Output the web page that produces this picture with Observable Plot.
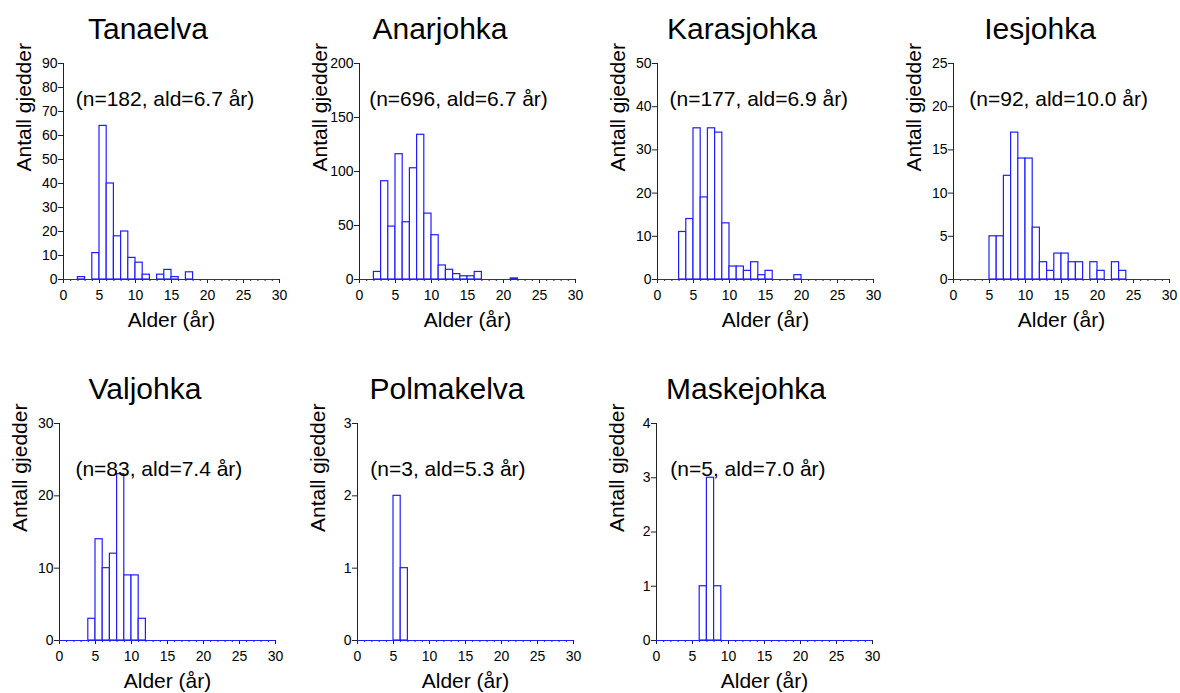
<!DOCTYPE html>
<html>
<head>
<meta charset="utf-8">
<script src="https://cdn.jsdelivr.net/npm/d3@7"></script>
<script src="https://cdn.jsdelivr.net/npm/@observablehq/plot@0.6"></script>
<style>
  html, body { margin: 0; padding: 0; background: #fff; }
  #page { position: relative; width: 1180px; height: 693px; overflow: hidden;
          font-family: "Liberation Sans", Arial, sans-serif; color: #000; }
  .title { position: absolute; width: 300px; text-align: center;
           font-size: 30px; line-height: 30px; white-space: nowrap; }
  .panel { position: absolute; }
</style>
</head>
<body>
<div id="page"></div>
<script>
// Age distributions of pike (gjedde) per river: count of fish per age class (years).
const rivers = ["Tanaelva", "Anarjohka", "Karasjohka", "Iesjohka", "Valjohka", "Polmakelva", "Maskejohka"];

const tanaelvaAges   = [2, 4, 5, 6, 7, 8, 9, 10, 11, 13, 14, 15, 17];
const tanaelvaCounts = [1, 11, 64, 40, 18, 20, 9, 7, 2, 2, 4, 1, 3];

const anarjohkaAges   = [2, 3, 4, 5, 6, 7, 8, 9, 10, 11, 12, 13, 14, 15, 16, 21];
const anarjohkaCounts = [7, 91, 49, 116, 53, 103, 134, 61, 41, 13, 9, 5, 3, 3, 7, 1];

const karasjohkaAges   = [3, 4, 5, 6, 7, 8, 9, 10, 11, 12, 13, 14, 15, 19];
const karasjohkaCounts = [11, 14, 35, 19, 35, 34, 13, 3, 3, 2, 4, 1, 2, 1];

const iesjohkaAges   = [5, 6, 7, 8, 9, 10, 11, 12, 13, 14, 15, 16, 17, 19, 20, 22, 23];
const iesjohkaCounts = [5, 5, 12, 17, 14, 14, 6, 2, 1, 3, 3, 2, 2, 2, 1, 2, 1];

const valjohkaAges   = [4, 5, 6, 7, 8, 9, 10, 11];
const valjohkaCounts = [3, 14, 10, 12, 23, 9, 9, 3];

const polmakelvaAges   = [5, 6];
const polmakelvaCounts = [2, 1];

const maskejohkaAges   = [6, 7, 8];
const maskejohkaCounts = [1, 3, 1];

// Sample size and mean age shown in each panel
const sampleSize = [182, 696, 177, 92, 83, 3, 5];
const meanAge    = ["6.7", "6.7", "6.9", "10.0", "7.4", "5.3", "7.0"];

// Y-axis extent and tick step per panel
const yMax  = [90, 200, 50, 25, 30, 3, 4];
const yStep = [10, 50, 10, 5, 10, 1, 1];

// X-axis tick labels (age, years)
const xMajorTicks = [0, 5, 10, 15, 20, 25, 30];
const xMinorTicks = [0, 1, 2, 3, 4, 5, 6, 7, 8, 9, 10, 11, 12, 13, 14, 15, 16, 17, 18, 19, 20,
                     21, 22, 23, 24, 25, 26, 27, 28, 29, 30];

const agesByRiver   = [tanaelvaAges, anarjohkaAges, karasjohkaAges, iesjohkaAges, valjohkaAges, polmakelvaAges, maskejohkaAges];
const countsByRiver = [tanaelvaCounts, anarjohkaCounts, karasjohkaCounts, iesjohkaCounts, valjohkaCounts, polmakelvaCounts, maskejohkaCounts];

// Page layout: frame position of each panel, title centre and label placement
const panelLayout = [
  {left: 63,  top: 63,  h: 216, titleX: 148,  titleTop: 14,  annX: 14.1,  annDy: 27.3},
  {left: 359, top: 63,  h: 216, titleX: 440,  titleTop: 14,  annX: 13.75, annDy: 27.3},
  {left: 657, top: 63,  h: 216, titleX: 742,  titleTop: 14,  annX: 14.07, annDy: 27.3},
  {left: 953, top: 63,  h: 216, titleX: 1040, titleTop: 14,  annX: 14.6,  annDy: 27.3},
  {left: 59,  top: 423, h: 217, titleX: 145,  titleTop: 374, annX: 13.8,  annDy: 37.3},
  {left: 357, top: 423, h: 217, titleX: 447,  titleTop: 374, annX: 12.56, annDy: 37.3},
  {left: 656, top: 423, h: 217, titleX: 746,  titleTop: 374, annX: 12.7,  annDy: 37.3}
];

const frameWidth = 216;
const margin = {left: 56, right: 8, top: 8, bottom: 56};
const barColor = "#1e1eff";
const font = "'Liberation Sans', Arial, sans-serif";

const page = document.getElementById("page");

rivers.forEach((name, i) => {
  const lay = panelLayout[i];
  const data = agesByRiver[i].map((age, j) => ({age, count: countsByRiver[i][j]}));
  const yTicks = d3.range(0, yMax[i] + yStep[i] / 2, yStep[i]);

  const title = document.createElement("div");
  title.className = "title";
  title.textContent = name;
  title.style.left = (lay.titleX - 150) + "px";
  title.style.top = lay.titleTop + "px";
  page.appendChild(title);

  const chart = Plot.plot({
    width: margin.left + frameWidth + margin.right,
    height: margin.top + lay.h + margin.bottom,
    marginLeft: margin.left,
    marginRight: margin.right,
    marginTop: margin.top,
    marginBottom: margin.bottom,
    style: {fontFamily: font, fontSize: "14px", color: "#000", background: "transparent", overflow: "visible"},
    x: {domain: [0, 30]},
    y: {domain: [0, yMax[i]]},
    marks: [
      Plot.axisX({ticks: xMinorTicks, tickSize: 2, tickFormat: () => "", label: null, stroke: "#222"}),
      Plot.axisX({ticks: xMajorTicks, tickSize: 4, tickPadding: 7, tickFormat: "d", fontSize: 14, label: null, stroke: "#222"}),
      Plot.axisY({ticks: yTicks, tickSize: 5, tickPadding: 1, tickFormat: "d", fontSize: 14, label: null, stroke: "#222"}),
      Plot.ruleX([0], {stroke: "#222", strokeWidth: 1}),
      Plot.rectY(data, {
        x1: "age",
        x2: d => d.age + 1,
        y: "count",
        fill: "#fff",
        stroke: barColor,
        strokeWidth: 1.2
      }),
      Plot.ruleY([0], {stroke: barColor, strokeWidth: 1.2}),
      Plot.text([`(n=${sampleSize[i]}, ald=${meanAge[i]} år)`], {
        x: () => lay.annX,
        frameAnchor: "top",
        dy: lay.annDy,
        fontSize: 21,
        fill: "#000"
      }),
      Plot.text(["Antall gjedder"], {
        frameAnchor: "left",
        rotate: -90,
        dx: -39,
        fontSize: 21,
        fill: "#000"
      }),
      Plot.text(["Alder (år)"], {
        frameAnchor: "bottom",
        lineAnchor: "top",
        dy: 32.7,
        fontSize: 21,
        fill: "#000"
      })
    ]
  });

  const holder = document.createElement("div");
  holder.className = "panel";
  holder.style.left = (lay.left - margin.left) + "px";
  holder.style.top = (lay.top - margin.top) + "px";
  holder.appendChild(chart);
  page.appendChild(holder);
});
</script>
</body>
</html>
